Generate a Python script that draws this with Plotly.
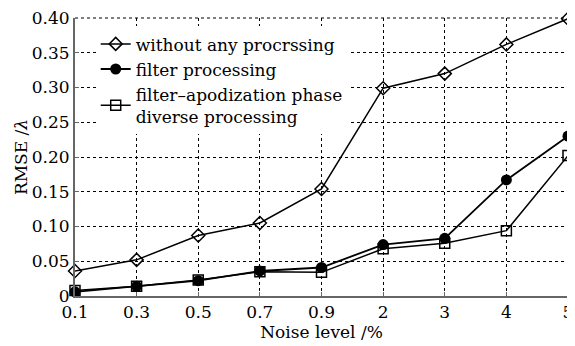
import plotly.graph_objects as go

categories = ["0.1", "0.3", "0.5", "0.7", "0.9", "2", "3", "4", "5"]
without_proc = [0.036, 0.052, 0.087, 0.105, 0.154, 0.299, 0.320, 0.362, 0.399]
filter_proc = [0.006, 0.014, 0.022, 0.036, 0.041, 0.074, 0.083, 0.167, 0.230]
apod_proc = [0.008, 0.014, 0.023, 0.035, 0.034, 0.068, 0.076, 0.094, 0.202]
series_names = ["without any procrssing", "filter processing",
                "filter\u2013apodization phase<br>diverse processing"]
yticks = [0, 0.05, 0.10, 0.15, 0.20, 0.25, 0.30, 0.35, 0.40]
yticklabels = ["0", "0.05", "0.10", "0.15", "0.20", "0.25", "0.30", "0.35", "0.40"]

FONT = "DejaVu Serif, Liberation Serif, serif"
xidx = list(range(len(categories)))

fig = go.Figure()
fig.add_trace(go.Scatter(x=xidx, y=without_proc, name=series_names[0], mode="lines+markers",
                         cliponaxis=False,
                         line=dict(color="black", width=1.5),
                         marker=dict(symbol="diamond-open", size=10, color="black", line=dict(width=1.5))))
fig.add_trace(go.Scatter(x=xidx, y=filter_proc, name=series_names[1], mode="lines+markers",
                         cliponaxis=False,
                         line=dict(color="black", width=1.8),
                         marker=dict(symbol="circle", size=11, color="black")))
fig.add_trace(go.Scatter(x=xidx, y=apod_proc, name=series_names[2], mode="lines+markers",
                         cliponaxis=False,
                         line=dict(color="black", width=1.5),
                         marker=dict(symbol="square-open", size=10, color="black", line=dict(width=1.5))))

grid = dict(showgrid=True, gridcolor="black", gridwidth=1, griddash="dot")
fig.update_xaxes(range=[0, 8], tickvals=xidx, ticktext=categories, **grid,
                 showline=True, linecolor="#666", linewidth=2, ticks="inside", ticklen=4,
                 tickcolor="#666", zeroline=False, automargin=False, ticklabeloverflow="allow",
                 tickfont=dict(family=FONT, size=17, color="black"),
                 title=dict(text="Noise level /%", font=dict(family=FONT, size=17, color="black"), standoff=0))
fig.update_yaxes(range=[0, 0.40], tickvals=yticks, ticktext=yticklabels, **grid,
                 showline=True, linecolor="#666", linewidth=2, ticks="inside", ticklen=4,
                 tickcolor="#666", zeroline=False, automargin=False, ticklabeloverflow="allow",
                 tickfont=dict(family=FONT, size=17, color="black"),
                 title=dict(text="RMSE /<i>λ</i>", font=dict(family=FONT, size=17, color="black"), standoff=0))

# dotted frame on the top and right edges of the plot area
frame = dict(type="line", xref="paper", yref="paper", layer="below",
             line=dict(color="black", width=1, dash="dot"))
fig.add_shape(x0=0, x1=1, y0=1, y1=1, **frame)
fig.add_shape(x0=1, x1=1, y0=0, y1=1, **frame)

# page body has an 8px margin, so the figure is sized/positioned to compensate
fig.update_layout(
    width=567, height=338,
    margin=dict(l=67, r=7, t=10, b=50),
    plot_bgcolor="white", paper_bgcolor="white",
    legend=dict(x=0.042, y=0.97, xanchor="left", yanchor="top", bgcolor="rgba(255,255,255,1)",
                font=dict(family=FONT, size=17, color="black"), tracegroupgap=0,
                itemwidth=30),
    showlegend=True,
)
fig.write_html("out.html")
